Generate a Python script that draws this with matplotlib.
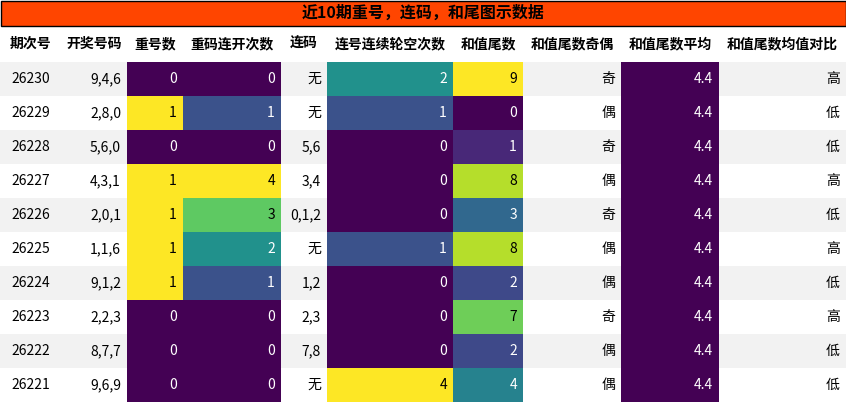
import matplotlib
matplotlib.use("Agg")
import matplotlib.pyplot as plt
from matplotlib.patches import Rectangle
import numpy as np

plt.rcParams['font.family'] = ['Noto Sans CJK SC', 'DejaVu Sans']

title = "近10期重号，连码，和尾图示数据"
headers = ["期次号", "开奖号码", "重号数", "重码连开次数", "连码", "连号连续轮空次数", "和值尾数", "和值尾数奇偶", "和值尾数平均", "和值尾数均值对比"]
periods = ["26230", "26229", "26228", "26227", "26226", "26225", "26224", "26223", "26222", "26221"]
draws = ["9,4,6", "2,8,0", "5,6,0", "4,3,1", "2,0,1", "1,1,6", "9,1,2", "2,2,3", "8,7,7", "9,6,9"]
repeat_cnt = [0, 1, 0, 1, 1, 1, 1, 0, 0, 0]
repeat_run = [0, 1, 0, 4, 3, 2, 1, 0, 0, 0]
consec = ["无", "无", "5,6", "3,4", "0,1,2", "无", "1,2", "2,3", "7,8", "无"]
consec_gap = [2, 1, 0, 0, 0, 1, 0, 0, 0, 4]
tail = [9, 0, 1, 8, 3, 8, 2, 7, 2, 4]
parity = ["奇", "偶", "奇", "偶", "奇", "偶", "偶", "奇", "偶", "偶"]
tail_avg = [4.4] * 10
compare = ["高", "低", "低", "高", "低", "高", "低", "高", "低", "低"]

cols = [periods, draws, repeat_cnt, repeat_run, consec, consec_gap, tail, parity, tail_avg, compare]
numeric = {2, 3, 5, 6, 8}
edges = [0, 62, 127, 183, 281, 327, 453, 523, 621, 719, 846]
W, H = 846, 403
title_h, head_h, row_h = 26, 36, 34

fig = plt.figure(figsize=(W / 100, H / 100), dpi=100)
ax = fig.add_axes([0, 0, 1, 1])
ax.set_xlim(0, W); ax.set_ylim(H, 0); ax.axis('off')
cmap = plt.get_cmap('viridis')

ax.add_patch(Rectangle((0.5, 0.5), W - 1, title_h - 1, facecolor='#FF4500', edgecolor='black', lw=1))
ax.text(W / 2, title_h / 2, title, ha='center', va='center', fontsize=11.5, fontweight='bold')

for j, h in enumerate(headers):
    ax.text((edges[j] + edges[j + 1]) / 2, title_h + head_h / 2, h, ha='center', va='center', fontsize=10, fontweight='bold')

for j, col in enumerate(cols):
    x0, x1 = edges[j], edges[j + 1]
    if j in numeric:
        arr = np.array(col, dtype=float)
        lo, hi = arr.min(), arr.max()
    for i, v in enumerate(col):
        y0 = title_h + head_h + i * row_h
        bg = '#f2f2f2' if i % 2 == 0 else 'white'
        tc = 'black'
        if j in numeric:
            t = 0.0 if hi == lo else (v - lo) / (hi - lo)
            rgba = cmap(t)
            bg = rgba
            lum = 0.299 * rgba[0] + 0.587 * rgba[1] + 0.114 * rgba[2]
            tc = 'white' if lum < 0.5 else 'black'
        ax.add_patch(Rectangle((x0, y0), x1 - x0, row_h, facecolor=bg, edgecolor='none'))
        s = f"{v}"
        if j == 0:
            ax.text((x0 + x1) / 2, y0 + row_h / 2, s, ha='center', va='center', fontsize=10, color=tc)
        else:
            ax.text(x1 - 6, y0 + row_h / 2, s, ha='right', va='center', fontsize=10, color=tc)

fig.savefig("out.png", dpi=100)
